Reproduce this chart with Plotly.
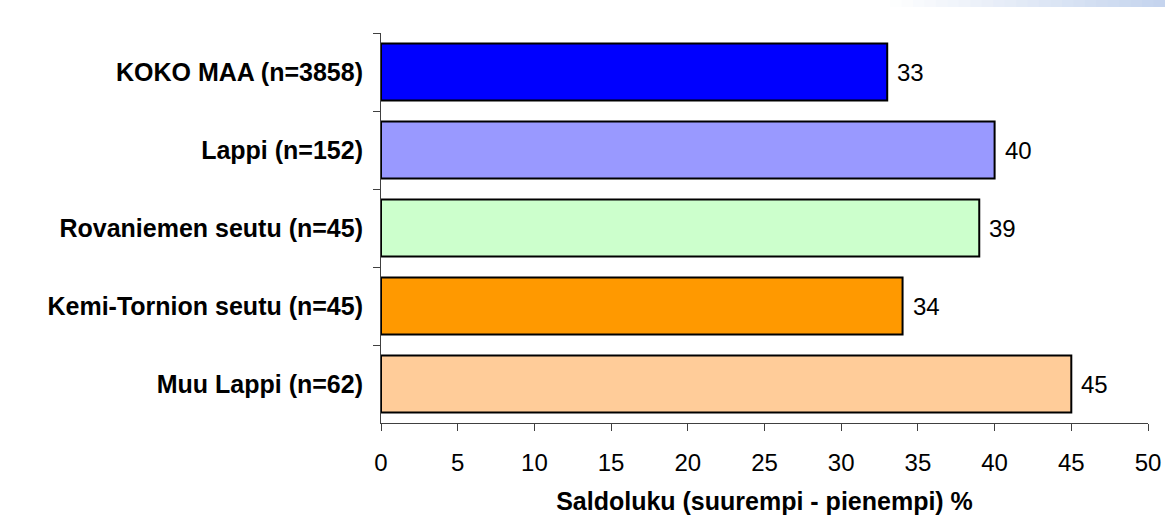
import plotly.graph_objects as go

categories = ["KOKO MAA (n=3858)", "Lappi (n=152)", "Rovaniemen seutu (n=45)",
              "Kemi-Tornion seutu (n=45)", "Muu Lappi (n=62)"]
values = [33, 40, 39, 34, 45]
colors = ["#0000FF", "#9999FF", "#CCFFCC", "#FF9900", "#FFCC99"]
x_ticks = [0, 5, 10, 15, 20, 25, 30, 35, 40, 45, 50]
x_title = "Saldoluku (suurempi - pienempi) %"

FONT = "Liberation Sans, Arial, sans-serif"
W, H = 1165, 527
L, R, T, B = 381, 17, 33, 104

fig = go.Figure()
fig.add_trace(go.Bar(
    x=values, y=categories, orientation="h",
    marker=dict(color=colors, line=dict(color="#000000", width=2)),
    hoverinfo="x+y",
))

for c, v in zip(categories, values):
    fig.add_annotation(x=v, y=c, xref="x", yref="y", text=str(v),
                       showarrow=False, xanchor="left", xshift=8,
                       font=dict(family=FONT, size=24, color="#000000"))

# decorative gradient strip in the top-right corner
pw, ph = W - L - R, H - T - B
x0_px, x1_px = 890, W
n = 24
for i in range(n):
    a = x0_px + (x1_px - x0_px) * i / n
    b = x0_px + (x1_px - x0_px) * (i + 1) / n
    t = (i + 0.5) / n
    r_ = int(255 + (196 - 255) * t)
    g_ = int(255 + (212 - 255) * t)
    b_ = int(255 + (238 - 255) * t)
    fig.add_shape(type="rect", xref="paper", yref="paper",
                  x0=(a - L) / pw, x1=(b - L) / pw + 0.001,
                  y0=(H - B - 7) / ph, y1=(H - B) / ph,
                  line=dict(width=0), fillcolor=f"rgb({r_},{g_},{b_})", layer="below")

fig.update_layout(
    width=W, height=H,
    margin=dict(l=L, r=R, t=T, b=B, autoexpand=False),
    paper_bgcolor="#FFFFFF", plot_bgcolor="#FFFFFF",
    bargap=0.27, showlegend=False,
    font=dict(family=FONT, color="#000000"),
    xaxis=dict(
        range=[0, 50], tickvals=x_ticks, ticktext=[str(t) for t in x_ticks],
        showgrid=False, zeroline=False, showline=True, linecolor="#404040", linewidth=1,
        ticks="outside", ticklen=7, tickcolor="#404040", tickwidth=1,
        tickfont=dict(family=FONT, size=24, color="#000000"),
        ticklabelstandoff=11,
        title=dict(text=x_title, standoff=17,
                   font=dict(family=FONT, size=25, color="#000000", weight="bold")),
        automargin=False, fixedrange=True,
    ),
    yaxis=dict(
        type="category", autorange="reversed", tickson="boundaries",
        showgrid=False, zeroline=False, showline=True, linecolor="#404040", linewidth=1,
        ticks="outside", ticklen=7, tickcolor="#404040", tickwidth=1,
        tickfont=dict(family=FONT, size=25, color="#000000", weight="bold"),
        ticklabelstandoff=12,
        automargin=False, fixedrange=True,
    ),
)

fig.write_html("out.html", config={"displayModeBar": False},
               post_script="document.body.style.margin='0';")
